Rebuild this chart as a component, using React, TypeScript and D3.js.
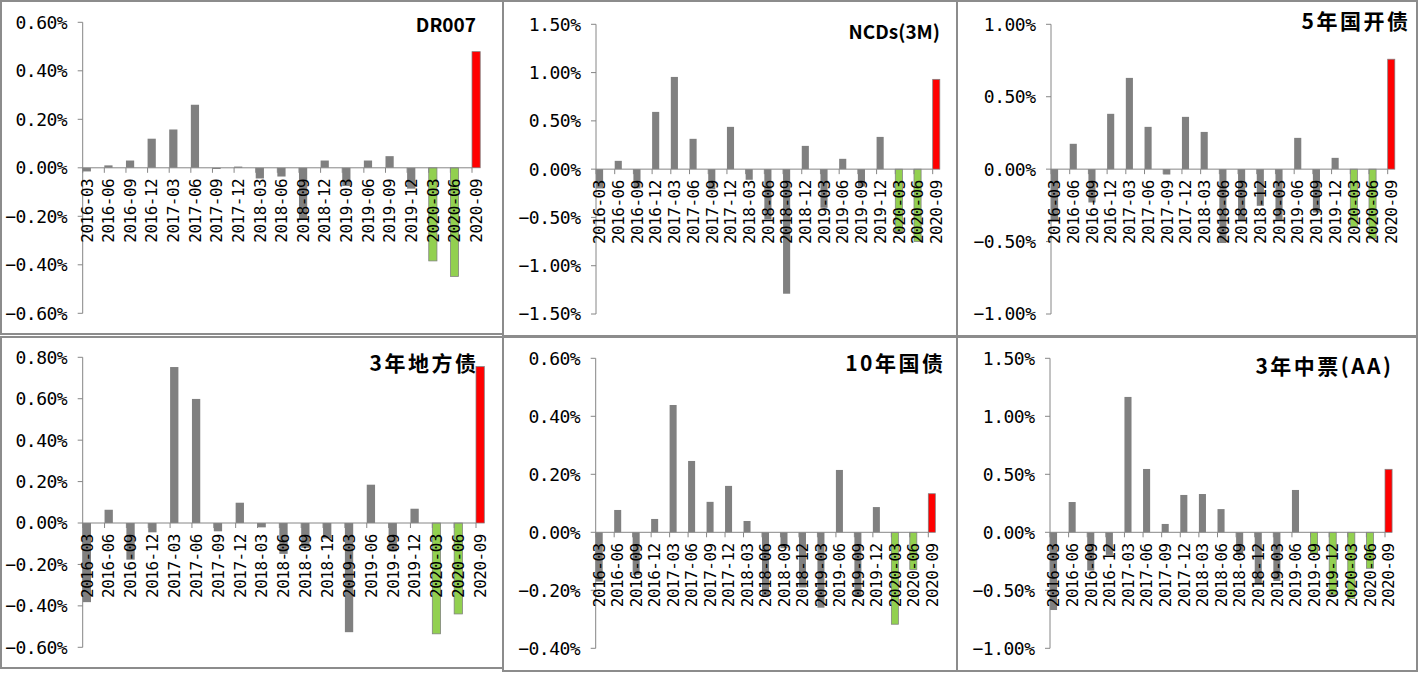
import * as d3 from "d3";

// quarter-end categories shared by all six panels
const categories = [
  "2016-03", "2016-06", "2016-09", "2016-12",
  "2017-03", "2017-06", "2017-09", "2017-12",
  "2018-03", "2018-06", "2018-09", "2018-12",
  "2019-03", "2019-06", "2019-09", "2019-12",
  "2020-03", "2020-06", "2020-09",
];

// changes in %
const dr007 = [
  -0.015, 0.01, 0.03, 0.12, 0.158, 0.26, -0.005, 0.005, -0.044, -0.036,
  -0.215, 0.03, -0.075, 0.03, 0.048, -0.086, -0.384, -0.448, 0.479,
];
const ncd3m = [
  -0.2, 0.086, -0.2, 0.593, 0.955, 0.314, -0.21, 0.438, -0.11, -0.52,
  -1.29, 0.241, -0.4, 0.107, -0.18, 0.334, -0.645, -0.75, 0.93,
];
const cdb5y = [
  -0.36, 0.175, -0.23, 0.382, 0.63, 0.292, -0.037, 0.361, 0.257, -0.51,
  -0.36, -0.253, -0.35, 0.216, -0.3, 0.078, -0.4, -0.48, 0.759,
];
const local3y = [
  -0.382, 0.064, -0.177, -0.045, 0.753, 0.599, -0.04, 0.098, -0.021, -0.149,
  -0.12, -0.075, -0.527, 0.185, -0.137, 0.069, -0.535, -0.439, 0.755,
];
const cgb10y = [
  -0.17, 0.077, -0.147, 0.046, 0.439, 0.246, 0.105, 0.16, 0.039, -0.216,
  -0.055, -0.19, -0.26, 0.215, -0.22, 0.087, -0.317, -0.128, 0.133,
];
const mtnAA3y = [
  -0.67, 0.261, -0.33, -0.195, 1.167, 0.546, 0.072, 0.322, 0.33, 0.2,
  -0.195, -0.45, -0.42, 0.365, -0.18, -0.535, -0.57, -0.31, 0.543,
];

const titles = ["DR007", "NCDs(3M)", "5年国开债", "3年地方债", "10年国债", "3年中票(AA)"];
const seriesList = [dr007, ncd3m, cdb5y, local3y, cgb10y, mtnAA3y];
// y domain [min, max, step] per panel
const yDomains: [number, number, number][] = [
  [-0.6, 0.6, 0.2],
  [-1.5, 1.5, 0.5],
  [-1.0, 1.0, 0.5],
  [-0.6, 0.8, 0.2],
  [-0.4, 0.6, 0.2],
  [-1.0, 1.5, 0.5],
];
const greenCats = [
  ["2020-03", "2020-06"],
  ["2020-03", "2020-06"],
  ["2020-03", "2020-06"],
  ["2020-03", "2020-06"],
  ["2020-03", "2020-06"],
  ["2019-09", "2019-12", "2020-03", "2020-06"],
];
const redCat = "2020-09";

// layout (pixels)
const boxes = [
  { x: 1, y: 1, w: 502, h: 333 },
  { x: 503, y: 1, w: 454, h: 335 },
  { x: 957, y: 1, w: 460, h: 335 },
  { x: 1, y: 337, w: 502, h: 331 },
  { x: 503, y: 337, w: 454, h: 334 },
  { x: 957, y: 337, w: 460, h: 334 },
];
const plots = [
  { x0: 82.7, x1: 472, yTop: 22.3, yBot: 313.3 },
  { x0: 596, x1: 932.7, yTop: 24.3, yBot: 314 },
  { x0: 1051, x1: 1387.7, yTop: 24.3, yBot: 314 },
  { x0: 82.7, x1: 476, yTop: 357.3, yBot: 647.3 },
  { x0: 595.7, x1: 928.3, yTop: 358.3, yBot: 648.3 },
  { x0: 1050, x1: 1385, yTop: 358.3, yBot: 648.3 },
];
const titlePos = [
  { x: 476, y: 32 },
  { x: 940, y: 39 },
  { x: 1408, y: 29 },
  { x: 476, y: 371 },
  { x: 943, y: 371 },
  { x: 1391, y: 374 },
];

const AXIS = "#868686";
const GRAY = "#808080";
const GREEN = "#92D050";
const RED = "#FF0000";
const MONO = "'DejaVu Sans Mono', monospace";
const CJK = "'Noto Sans CJK SC', 'Noto Sans', sans-serif";

function Panel({ i }: { i: number }) {
  const values = seriesList[i];
  const [lo, hi, step] = yDomains[i];
  const p = plots[i];
  const y = d3.scaleLinear().domain([lo, hi]).range([p.yBot, p.yTop]);
  const x = d3.scalePoint<string>().domain(categories).range([p.x0, p.x1]);
  const bw = x.step() * 0.38;
  const ticks = d3.range(Math.round((hi - lo) / step) + 1).map((k) => Math.round((lo + k * step) * 100) / 100);
  const fmt = d3.format(".2f");
  const y0 = y(0);
  const box = boxes[i];
  const tp = titlePos[i];
  const cjk = /[\u4e00-\u9fff]/.test(titles[i]);
  const ls = cjk ? 2.5 : 0;

  return (
    <g>
      <rect x={box.x} y={box.y} width={box.w} height={box.h} fill="#fff" stroke="#8c8c8c" strokeWidth={2} />
      {values.map((v, k) => {
        const c = categories[k];
        const isRed = c === redCat;
        const isGreen = greenCats[i].includes(c);
        const fill = isRed ? RED : isGreen ? GREEN : GRAY;
        return (
          <rect
            key={c}
            x={x(c)!}
            y={Math.min(y(v), y0)}
            width={bw}
            height={Math.abs(y(v) - y0)}
            fill={fill}
            stroke={isRed || isGreen ? "#7f7f7f" : "none"}
            strokeWidth={0.75}
          />
        );
      })}
      {/* y axis */}
      <line x1={p.x0} x2={p.x0} y1={p.yTop} y2={p.yBot} stroke={AXIS} />
      {ticks.map((t) => (
        <g key={t}>
          <line x1={p.x0 - 5} x2={p.x0} y1={y(t)} y2={y(t)} stroke={AXIS} />
          <text
            x={p.x0 - 15.5}
            y={y(t)}
            dy="0.36em"
            textAnchor="end"
            fontFamily={MONO}
            fontSize={18}
            letterSpacing={-0.5}
            fill="#000"
          >
            {fmt(t) + "%"}
          </text>
        </g>
      ))}
      {/* category axis at zero */}
      <line x1={p.x0} x2={p.x1} y1={y0} y2={y0} stroke={AXIS} />
      {categories.map((c) => (
        <line key={c} x1={x(c)!} x2={x(c)!} y1={y0} y2={y0 + 5} stroke={AXIS} />
      ))}
      {categories.map((c) => (
        <text
          key={c}
          transform={`translate(${x(c)! + bw / 2},${y0 + 11}) rotate(-90)`}
          dy="0.36em"
          textAnchor="end"
          fontFamily={MONO}
          fontSize={16}
          letterSpacing={-0.5}
          fill="#000"
        >
          {c}
        </text>
      ))}
      <text
        x={tp.x + ls}
        y={tp.y}
        textAnchor="end"
        fontFamily={CJK}
        fontWeight={700}
        fontSize={cjk ? 21 : 19}
        letterSpacing={ls}
        fill="#000"
      >
        {titles[i]}
      </text>
    </g>
  );
}

export default function App() {
  return (
    <svg
      width={1418}
      height={673}
      viewBox="0 0 1418 673"
      style={{ position: "absolute", left: 0, top: 0, background: "#fff" }}
    >
      <rect width={1418} height={673} fill="#fff" />
      {titles.map((_, i) => (
        <Panel key={i} i={i} />
      ))}
    </svg>
  );
}
